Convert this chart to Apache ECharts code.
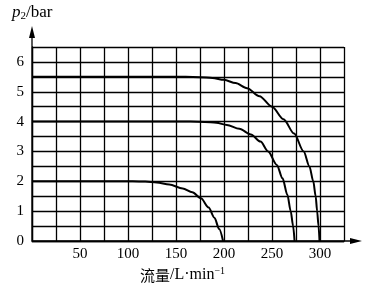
<!DOCTYPE html>
<html><head><meta charset="utf-8">
<script src="https://cdn.jsdelivr.net/npm/echarts@6/dist/echarts.min.js"></script>
<style>html,body{margin:0;padding:0;background:#fff}#c{width:368px;height:295px}</style>
</head><body><div id="c"></div>
<script>
var curve55 = [[0,5.5],[160,5.5],[175,5.49],[188,5.46],[200,5.4],[212,5.29],[224,5.12],[237,4.85],[250,4.5],[262,4.08],[273,3.6],[283,3.0],[289,2.5],[293,2.0],[295.5,1.5],[297,1.0],[298.5,0.5],[299.5,0]];
var curve40 = [[0,4],[165,4],[180,3.99],[192,3.96],[203,3.89],[216,3.76],[228,3.57],[238,3.33],[246,3.0],[255,2.55],[261,2.1],[266,1.55],[269.5,1.0],[272,0.5],[273.5,0]];
var curve20 = [[0,2],[105,2],[118,1.99],[130,1.96],[143,1.89],[157,1.76],[167,1.63],[176,1.43],[184,1.12],[190,0.78],[195,0.4],[199,0]];
var xLabels = [50,100,150,200,250,300];
var yLabels = [0,1,2,3,4,5,6];

var chart = echarts.init(document.getElementById('c'));
var lineStyle = {color:'#000', width:2};
function mk(d){return {type:'line', data:d, smooth:0.3, smoothMonotone:'x', symbol:'none', lineStyle:lineStyle, z:5};}
chart.setOption({
  animation:false,
  grid:{left:32, right:24, top:47, bottom:54},
  xAxis:{type:'value', min:0, max:325, interval:25,
    axisLine:{show:true, lineStyle:{color:'#000', width:1.3}},
    axisTick:{show:false},
    splitLine:{show:true, lineStyle:{color:'#000', width:1.3}},
    axisLabel:{color:'#000', fontFamily:'Liberation Serif', fontSize:15, margin:6,
      formatter:function(v){return xLabels.indexOf(v)>=0 ? String(v) : '';}}
  },
  yAxis:{type:'value', min:0, max:6.5, interval:0.5,
    axisLine:{show:true, lineStyle:{color:'#000', width:1.3}},
    axisTick:{show:false},
    splitLine:{show:true, lineStyle:{color:'#000', width:1.3}},
    axisLabel:{color:'#000', fontFamily:'Liberation Serif', fontSize:15, margin:8,
      formatter:function(v){return yLabels.indexOf(v)>=0 ? String(v) : '';}}
  },
  series:[mk(curve55), mk(curve40), mk(curve20)],
  graphic:[
    {type:'line', shape:{x1:32,y1:241,x2:32,y2:32}, style:{stroke:'#000', lineWidth:1.3}},
    {type:'polygon', shape:{points:[[32,26],[29,38],[35,38]]}, style:{fill:'#000'}},
    {type:'line', shape:{x1:32,y1:241,x2:354,y2:241}, style:{stroke:'#000', lineWidth:1.3}},
    {type:'polygon', shape:{points:[[362,241],[350,238],[350,244]]}, style:{fill:'#000'}},
    {type:'text', left:12, top:4, style:{
      rich:{p:{fontFamily:'Liberation Serif', fontStyle:'italic', fontSize:17, fill:'#000'},
            s:{fontFamily:'Liberation Serif', fontSize:11, fill:'#000', verticalAlign:'bottom', padding:[8,0,0,0]},
            n:{fontFamily:'Liberation Serif', fontSize:17, fill:'#000'}},
      text:'{p|p}{s|2}{n|/bar}'}},
    {type:'text', left:140, top:266, style:{
      rich:{c:{fontFamily:'Noto Sans CJK SC', fontSize:15, fill:'#000'},
            n:{fontFamily:'Liberation Serif', fontSize:16, fill:'#000'},
            e:{fontFamily:'Liberation Serif', fontSize:10, fill:'#000', padding:[0,0,8,0]}},
      text:'{c|流量}{n|/L·min}{e|−1}'}}
  ]
});
</script></body></html>
